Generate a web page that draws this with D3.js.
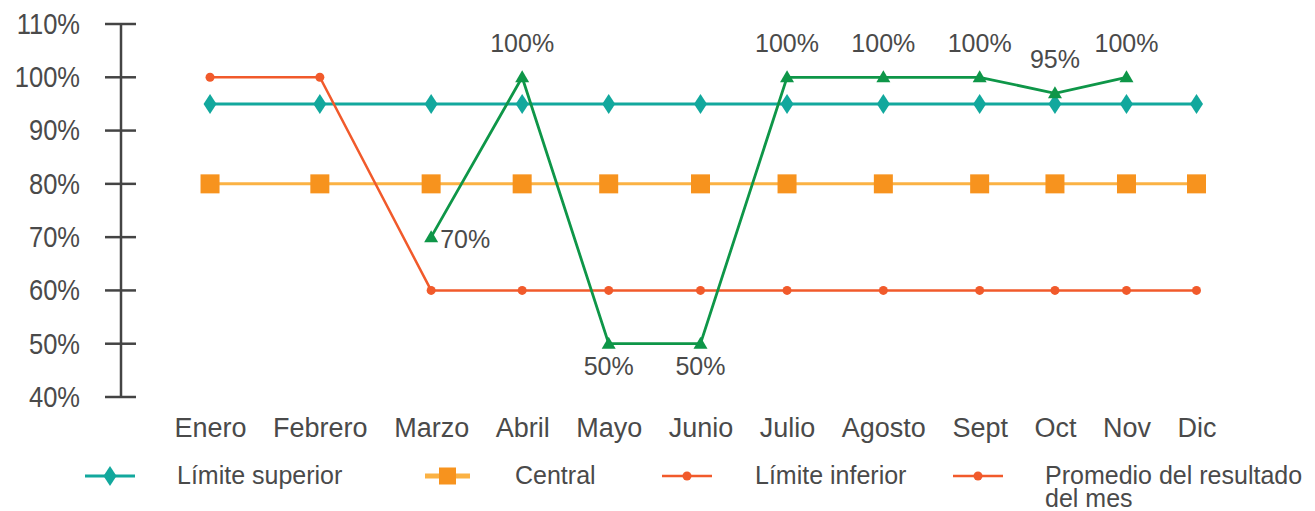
<!DOCTYPE html>
<html><head><meta charset="utf-8">
<script src="https://cdn.jsdelivr.net/npm/d3@7"></script>
<style>body{margin:0;background:#fff}svg{display:block}</style>
</head><body>
<svg id="c" width="1315" height="511"></svg>
<script>
const months = ["Enero","Febrero","Marzo","Abril","Mayo","Junio","Julio","Agosto","Sept","Oct","Nov","Dic"];
const yTicks = [40,50,60,70,80,90,100,110];
const limiteSuperior = [95,95,95,95,95,95,95,95,95,95,95,95];
const central = [80,80,80,80,80,80,80,80,80,80,80,80];
const limiteInferior = [100,100,60,60,60,60,60,60,60,60,60,60];
const promedio = [null,null,70,100,50,50,100,100,100,97,100,null];
const promedioLabels = [null,null,"70%","100%","50%","50%","100%","100%","100%","95%","100%",null];
const promedioLabelPlacement = [null,null,"right","above","below","below","above","above","above","above","above",null];
const legendNames = ["Límite superior","Central","Límite inferior","Promedio del resultado|del mes"];

const svg = d3.select("#c");
const FONT = "'Liberation Sans', Arial, Helvetica, sans-serif";
const TXT = "#4a4a4a";
const C_TEAL="#12A89D", C_ORANGE="#F7931E", C_ORANGE_LINE="#FBB244", C_RED="#F15A2B", C_GREEN="#0E9648";

const y = d3.scaleLinear().domain([40,110]).range([397,24]);

// x layout from label widths
const xLabelSize = 27;
const meas = svg.append("g").attr("font-family",FONT).attr("font-size",xLabelSize);
const widths = months.map(m=>{const t=meas.append("text").text(m);const w=t.node().getComputedTextLength();t.remove();return w;});
meas.remove();
const left=174, right=1216;
const gap = (right-left-d3.sum(widths))/(months.length-1);
let cur=left; const centers=[];
widths.forEach(w=>{centers.push(cur+w/2);cur+=w+gap;});
const x = d3.scaleOrdinal().domain(months).range(centers);

// y axis
const axisX = 121, sx = 0.88;
const yAxis = d3.axisLeft(y).tickValues(yTicks).tickFormat(d=>d+"%").tickSize(0).tickPadding(41);
const ga = svg.append("g").attr("transform",`translate(${axisX},0)`).call(yAxis);
ga.select(".domain").remove();
ga.selectAll("text").attr("font-family",FONT).attr("font-size",29).attr("fill",TXT)
  .attr("x",-41/sx).attr("transform",`scale(${sx},1)`);
svg.append("line").attr("x1",axisX).attr("x2",axisX).attr("y1",y(110)).attr("y2",y(40)).attr("stroke","#444").attr("stroke-width",2.5);
svg.append("g").selectAll("line").data(yTicks).join("line")
  .attr("x1",axisX-16).attr("x2",axisX+15).attr("y1",d=>y(d)).attr("y2",d=>y(d)).attr("stroke","#444").attr("stroke-width",2.5);

// x labels
const xAxis = d3.axisBottom(x).tickSize(0).tickPadding(0);
const gx = svg.append("g").attr("transform","translate(0,437)").call(xAxis);
gx.select(".domain").remove();
gx.selectAll("text").attr("font-family",FONT).attr("font-size",xLabelSize).attr("fill",TXT).attr("dy",0);

const line = d3.line().defined(d=>d.v!=null).x(d=>x(d.m)).y(d=>y(d.v));
function ser(arr){return months.map((m,i)=>({m,v:arr[i]}));}

// central
svg.append("path").datum(ser(central)).attr("d",line).attr("fill","none").attr("stroke",C_ORANGE_LINE).attr("stroke-width",3);
svg.append("g").selectAll("rect").data(ser(central)).join("rect")
  .attr("x",d=>x(d.m)-9.5).attr("y",d=>y(d.v)-9.5).attr("width",19).attr("height",19).attr("fill",C_ORANGE);

// limite superior
svg.append("path").datum(ser(limiteSuperior)).attr("d",line).attr("fill","none").attr("stroke",C_TEAL).attr("stroke-width",3);
const diamond = "M0,-10L6.5,0L0,10L-6.5,0Z";
svg.append("g").selectAll("path").data(ser(limiteSuperior)).join("path")
  .attr("transform",d=>`translate(${x(d.m)},${y(d.v)})`).attr("d",diamond).attr("fill",C_TEAL);

// limite inferior
svg.append("path").datum(ser(limiteInferior)).attr("d",line).attr("fill","none").attr("stroke",C_RED).attr("stroke-width",2.5);
svg.append("g").selectAll("circle").data(ser(limiteInferior)).join("circle")
  .attr("cx",d=>x(d.m)).attr("cy",d=>y(d.v)).attr("r",4.5).attr("fill",C_RED);

// promedio
const pd = ser(promedio).filter(d=>d.v!=null);
svg.append("path").datum(pd).attr("d",line).attr("fill","none").attr("stroke",C_GREEN).attr("stroke-width",2.8);
const tri = "M0,-7L7,5L-7,5Z";
svg.append("g").selectAll("path").data(pd).join("path")
  .attr("transform",d=>`translate(${x(d.m)},${y(d.v)})`).attr("d",tri).attr("fill",C_GREEN);

// data labels
const lab = months.map((m,i)=>({m,v:promedio[i],t:promedioLabels[i],p:promedioLabelPlacement[i]})).filter(d=>d.t);
svg.append("g").selectAll("text").data(lab).join("text")
  .attr("font-family",FONT).attr("font-size",25).attr("fill",TXT)
  .attr("text-anchor",d=>d.p==="right"?"start":"middle")
  .attr("x",d=>d.p==="right"?x(d.m)+9:x(d.m))
  .attr("y",d=>d.p==="above"?y(d.v)-25:d.p==="below"?y(d.v)+31:y(d.v)+11)
  .text(d=>d.t);

// legend
const legendItems = [
  {name:legendNames[0], x0:85, x1:135, tx:177, type:"diamond", color:C_TEAL, lc:C_TEAL, lw:3},
  {name:legendNames[1], x0:425, x1:470, tx:515, type:"square", color:C_ORANGE, lc:C_ORANGE_LINE, lw:5},
  {name:legendNames[2], x0:662, x1:712, tx:755, type:"dot", color:C_RED, lc:C_RED, lw:2.5},
  {name:legendNames[3], x0:953, x1:1003, tx:1045, type:"dot", color:C_RED, lc:C_RED, lw:2.5}
];
const ly = 476;
const lg = svg.append("g");
legendItems.forEach(it=>{
  lg.append("line").attr("x1",it.x0).attr("x2",it.x1).attr("y1",ly).attr("y2",ly).attr("stroke",it.lc).attr("stroke-width",it.lw);
  const cx=(it.x0+it.x1)/2;
  if(it.type==="diamond") lg.append("path").attr("transform",`translate(${cx},${ly})`).attr("d",diamond).attr("fill",it.color);
  if(it.type==="square") lg.append("rect").attr("x",cx-8.5).attr("y",ly-8.5).attr("width",17).attr("height",17).attr("fill",it.color);
  if(it.type==="dot") lg.append("circle").attr("cx",cx).attr("cy",ly).attr("r",4.5).attr("fill",it.color);
  const t = lg.append("text").attr("font-family",FONT).attr("font-size",25).attr("fill",TXT).attr("x",it.tx).attr("y",ly+8);
  it.name.split("|").forEach((s,i)=>t.append("tspan").attr("x",it.tx).attr("dy",i?23:0).text(s));
});
</script>
</body></html>
